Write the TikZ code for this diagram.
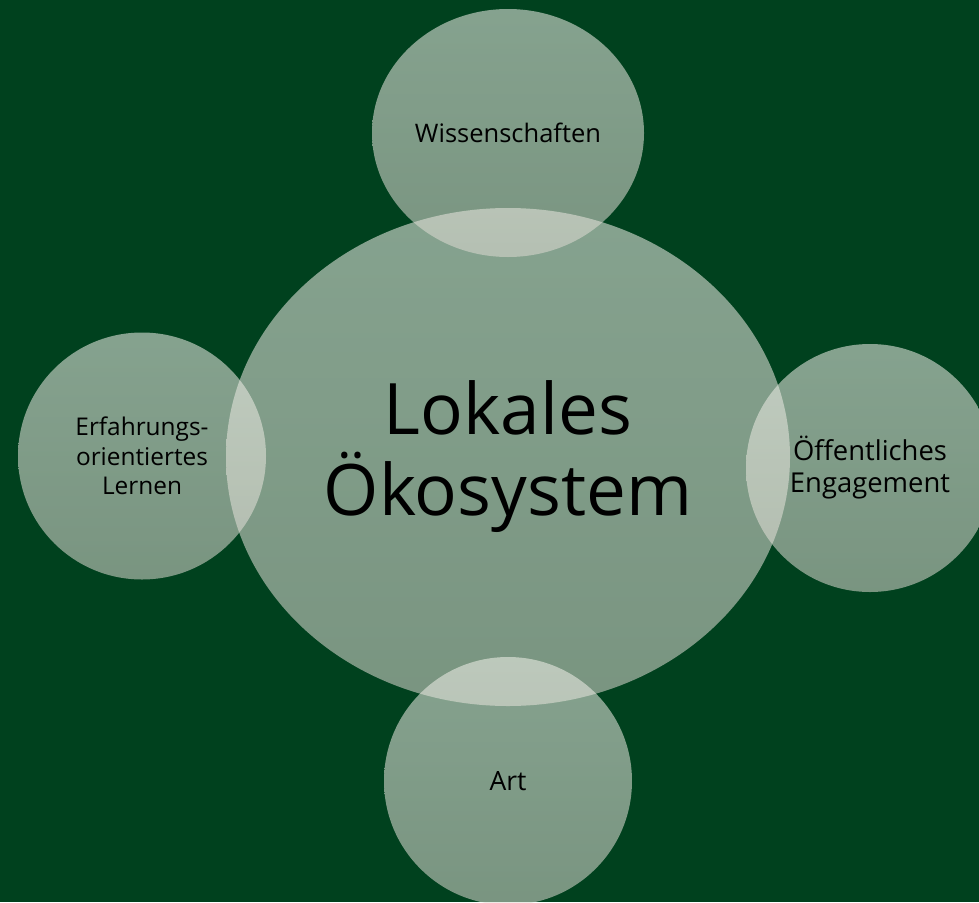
\documentclass[tikz,border=0pt]{standalone}
\usepackage{fontspec}
\setmainfont{Open Sans}
\usetikzlibrary{shapes.geometric}
\definecolor{bg}{RGB}{0,65,30}
\definecolor{ctop}{RGB}{244,243,236}
\definecolor{cbot}{RGB}{222,218,210}
\tikzset{
  bubble/.style={ellipse, inner sep=0pt, top color=ctop, bottom color=cbot,
    fill opacity=0.55, text opacity=1, text=black, align=center},
}
\begin{document}
\begin{tikzpicture}[x=1pt,y=-1pt]
\fill[bg] (0,0) rectangle (979,902);
\useasboundingbox (0,0) rectangle (979,902);
\node[bubble, minimum width=564pt, minimum height=498pt, font=\fontsize{71}{81}\selectfont] (center) at (508,457) {Lokales\\Ökosystem};
\node[bubble, minimum width=272pt, minimum height=248pt, font=\fontsize{25.5}{30}\selectfont] (top) at (508,133) {Wissenschaften};
\node[bubble, minimum width=248pt, minimum height=247pt, font=\fontsize{24.4}{29.5}\selectfont] (left) at (142,456) {Erfahrungs-\\orientiertes\\Lernen};
\node[bubble, minimum width=248pt, minimum height=248pt, font=\fontsize{27.4}{32}\selectfont] (right) at (870,468) {Öffentliches\\Engagement};
\node[bubble, minimum width=248pt, minimum height=248pt, font=\fontsize{26.5}{30}\selectfont] (bottom) at (508,781) {Art};
\end{tikzpicture}
\end{document}
